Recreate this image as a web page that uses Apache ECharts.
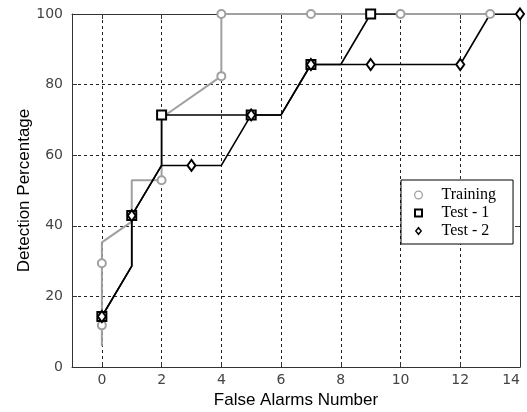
<!DOCTYPE html>
<html>
<head>
<meta charset="utf-8">
<script src="https://cdn.jsdelivr.net/npm/echarts@6/dist/echarts.min.js"></script>
<style>
  html, body { margin: 0; padding: 0; background: #fff; }
  #chart { width: 527px; height: 412px; }
</style>
</head>
<body>
<div id="chart"></div>
<script>
// Tick positions
const xTicks = [0, 2, 4, 6, 8, 10, 12, 14];
const yTicks = [0, 20, 40, 60, 80, 100];

// Training curve (line vertices; 1 = point carries a marker)
const trainingX = [0, 0, 0, 0, 1, 1, 2, 2, 4, 4, 7, 10, 13];
const trainingY = [5.9, 11.8, 29.4, 35.3, 41.2, 52.9, 52.9, 70.6, 82.4, 100, 100, 100, 100];
const trainingMarked = [0, 1, 1, 0, 0, 0, 1, 0, 1, 1, 1, 1, 1];

// Test - 1 curve
const test1X = [0, 1, 1, 2, 2, 5, 6, 7, 8, 9, 10];
const test1Y = [14.3, 28.6, 42.9, 57.1, 71.4, 71.4, 71.4, 85.7, 85.7, 100, 100];
const test1Marked = [1, 0, 1, 0, 1, 1, 0, 1, 0, 1, 0];

// Test - 2 curve
const test2X = [0, 1, 1, 2, 3, 4, 5, 6, 7, 9, 12, 13, 14];
const test2Y = [14.3, 28.6, 42.9, 57.1, 57.1, 57.1, 71.4, 71.4, 85.7, 85.7, 85.7, 100, 100];
const test2Marked = [1, 0, 1, 0, 1, 0, 1, 0, 1, 1, 1, 0, 1];

const seriesNames = ['Training', 'Test - 1', 'Test - 2'];

function buildPoints(xs, ys, marked, symbol) {
  return xs.map((x, i) => ({ value: [x, ys[i]], symbol: marked[i] ? symbol : 'none' }));
}

// Hollow legend glyphs (outer contour clockwise, inner contour counter-clockwise)
const iconCircle = 'path://M4.5,0A4.5,4.5 0 1,1 4.5,9A4.5,4.5 0 1,1 4.5,0Z M4.5,1.3A3.2,3.2 0 1,0 4.5,7.7A3.2,3.2 0 1,0 4.5,1.3Z';
const iconSquare = 'path://M0,0L9,0L9,9L0,9Z M2,2L2,7L7,7L7,2Z';
const iconDiamond = 'path://M4,0L8,5L4,10L0,5Z M4,2.7L1.9,5L4,7.3L6.1,5Z';

const GRAY = '#a0a0a0';
const AXIS = '#333';

const chart = echarts.init(document.getElementById('chart'), null, { renderer: 'canvas' });

const gridLine = { show: true, lineStyle: { color: '#222', width: 1, type: [3, 3] } };

chart.setOption({
  animation: false,
  backgroundColor: '#fff',
  grid: { left: 72, right: 7, top: 14, bottom: 45, containLabel: false, outerBoundsMode: 'none' },
  xAxis: [
    {
      type: 'value', min: -1, max: 14, position: 'bottom',
      name: 'False Alarms Number', nameLocation: 'middle', nameGap: 25, nameMoveOverlap: false,
      nameTextStyle: { fontFamily: 'Liberation Sans', fontSize: 17, color: '#000' },
      axisLine: { show: true, onZero: false, lineStyle: { color: AXIS, width: 1 } },
      axisTick: { show: true, inside: true, length: 5, customValues: xTicks, lineStyle: { color: AXIS } },
      axisLabel: { show: true, customValues: xTicks, margin: 6, alignMaxLabel: 'right', fontFamily: 'DejaVu Sans', fontSize: 14, color: '#444' },
      splitLine: gridLine
    },
    {
      type: 'value', min: -1, max: 14, position: 'top',
      axisLine: { show: true, onZero: false, lineStyle: { color: AXIS, width: 1 } },
      axisTick: { show: true, inside: true, length: 5, customValues: xTicks, lineStyle: { color: AXIS } },
      axisLabel: { show: false },
      splitLine: { show: false }
    }
  ],
  yAxis: [
    {
      type: 'value', min: 0, max: 100, interval: 20, position: 'left',
      name: 'Detection Percentage', nameLocation: 'middle', nameGap: 39, nameMoveOverlap: false,
      nameTextStyle: { fontFamily: 'Liberation Sans', fontSize: 17, color: '#000' },
      axisLine: { show: true, onZero: false, lineStyle: { color: AXIS, width: 1 } },
      axisTick: { show: true, inside: true, length: 5, lineStyle: { color: AXIS } },
      axisLabel: { show: true, margin: 9, fontFamily: 'DejaVu Sans', fontSize: 14, color: '#444' },
      splitLine: gridLine
    },
    {
      type: 'value', min: 0, max: 100, interval: 20, position: 'right',
      axisLine: { show: true, onZero: false, lineStyle: { color: AXIS, width: 1 } },
      axisTick: { show: true, inside: true, length: 5, lineStyle: { color: AXIS } },
      axisLabel: { show: false },
      splitLine: { show: false }
    }
  ],
  legend: {
    orient: 'vertical', left: 401, top: 180,
    itemWidth: 36, itemHeight: 9, itemGap: 2,
    padding: [7, 17, 5, 13],
    backgroundColor: '#fff', borderColor: '#000', borderWidth: 1, borderRadius: 0,
    symbolKeepAspect: true,
    itemStyle: { borderWidth: 0 },
    textStyle: { fontFamily: 'Liberation Serif', fontSize: 16, color: '#000', lineHeight: 15 },
    data: [
      { name: seriesNames[0], icon: iconCircle, itemStyle: { color: GRAY } },
      { name: seriesNames[1], icon: iconSquare, itemStyle: { color: '#000' } },
      { name: seriesNames[2], icon: iconDiamond, itemStyle: { color: '#000' } }
    ]
  },
  series: [
    {
      name: seriesNames[0], type: 'line', xAxisIndex: 0, yAxisIndex: 0,
      data: buildPoints(trainingX, trainingY, trainingMarked, 'emptyCircle'),
      symbolSize: 8,
      itemStyle: { color: GRAY, borderWidth: 1.5 },
      lineStyle: { color: GRAY, width: 2 },
      emphasis: { disabled: true }
    },
    {
      name: seriesNames[1], type: 'line', xAxisIndex: 0, yAxisIndex: 0,
      data: buildPoints(test1X, test1Y, test1Marked, 'emptyRect'),
      symbolSize: 9,
      itemStyle: { color: '#000', borderWidth: 2 },
      lineStyle: { color: '#000', width: 1.6 },
      emphasis: { disabled: true }
    },
    {
      name: seriesNames[2], type: 'line', xAxisIndex: 0, yAxisIndex: 0,
      data: buildPoints(test2X, test2Y, test2Marked, 'emptyDiamond'),
      symbolSize: [8, 11],
      itemStyle: { color: '#000', borderWidth: 1.8 },
      lineStyle: { color: '#000', width: 1.6 },
      emphasis: { disabled: true }
    }
  ]
});
</script>
</body>
</html>
